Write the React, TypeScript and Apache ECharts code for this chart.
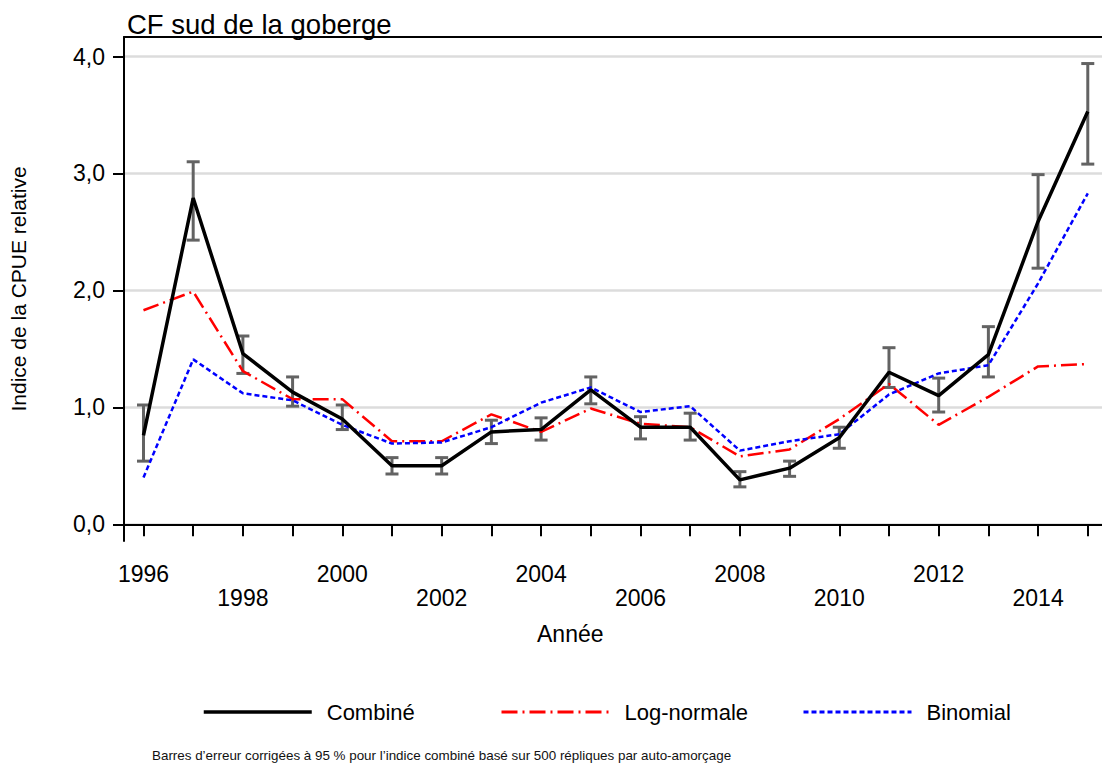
import React, { useEffect, useRef } from "react";
import * as echarts from "echarts";

const years = [1996, 1997, 1998, 1999, 2000, 2001, 2002, 2003, 2004, 2005, 2006, 2007, 2008, 2009, 2010, 2011, 2012, 2013, 2014, 2015];
const combine = [0.76, 2.79, 1.46, 1.13, 0.90, 0.50, 0.50, 0.79, 0.81, 1.15, 0.83, 0.83, 0.38, 0.48, 0.74, 1.30, 1.10, 1.45, 2.59, 3.53];
const combineLow = [0.54, 2.43, 1.29, 1.01, 0.81, 0.43, 0.43, 0.69, 0.72, 1.03, 0.73, 0.72, 0.32, 0.41, 0.65, 1.17, 0.96, 1.26, 2.19, 3.08];
const combineHigh = [1.02, 3.10, 1.61, 1.26, 1.02, 0.57, 0.57, 0.89, 0.91, 1.26, 0.92, 0.95, 0.45, 0.54, 0.83, 1.51, 1.25, 1.69, 2.99, 3.94];
const logNormal = [1.83, 1.99, 1.31, 1.07, 1.07, 0.71, 0.71, 0.94, 0.79, 0.99, 0.86, 0.83, 0.58, 0.64, 0.90, 1.20, 0.85, 1.09, 1.35, 1.37];
const binomial = [0.40, 1.41, 1.12, 1.06, 0.85, 0.69, 0.70, 0.83, 1.04, 1.17, 0.96, 1.01, 0.63, 0.71, 0.77, 1.11, 1.29, 1.36, 2.06, 2.83];
const yTicks = [0, 1, 2, 3, 4];
const xLabelYears = [1996, 1998, 2000, 2002, 2004, 2006, 2008, 2010, 2012, 2014];

const FONT = "'Liberation Sans', Arial, sans-serif";
const X_MIN = 1995.608;
const X_MAX = 2015.286;

export default function App() {
  const ref = useRef<HTMLDivElement>(null);
  useEffect(() => {
    if (!ref.current) return;
    const chart = echarts.init(ref.current, null, { renderer: "svg" });
    const option: any = {
      animation: false,
      textStyle: { fontFamily: FONT, color: "#000" },
      title: {
        text: "CF sud de la goberge",
        left: 122,
        top: 5,
        textStyle: { fontSize: 27.5, fontWeight: "normal", color: "#000", fontFamily: FONT },
      },
      grid: {
        left: 124,
        right: 0,
        top: 37,
        bottom: 222,
        show: false,
      },
      legend: [
        { name: "Combiné", left: 202, w: 3.5 },
        { name: "Log-normale", left: 500, w: 3 },
        { name: "Binomial", left: 802, w: 3 },
      ].map((l) => ({
        data: [l.name],
        left: l.left,
        top: 701,
        padding: 0,
        itemWidth: 108,
        itemHeight: 14,
        itemStyle: { opacity: 0 },
        lineStyle: { width: l.w },
        textStyle: { fontSize: 22, color: "#000", fontFamily: FONT, padding: [0, 0, 0, 10] },
        selectedMode: false,
      })),
      xAxis: [
        {
          type: "value",
          min: X_MIN,
          max: X_MAX,
          position: "bottom",
          axisLine: { show: true, lineStyle: { color: "#000", width: 2 } },
          axisTick: { show: true, customValues: years, length: 12, lineStyle: { color: "#000", width: 2 } },
          axisLabel: {
            customValues: xLabelYears,
            margin: 21,
            fontSize: 23,
            lineHeight: 24,
            color: "#000",
            fontFamily: FONT,
            formatter: (v: number) => ((Math.round(v) - 1996) % 4 === 0 ? `${Math.round(v)}\n ` : ` \n${Math.round(v)}`),
          },
          splitLine: { show: false },
        },
        {
          type: "value",
          min: X_MIN,
          max: X_MAX,
          position: "top",
          axisLine: { show: true, onZero: false, lineStyle: { color: "#000", width: 2 } },
          axisTick: { show: false },
          axisLabel: { show: false },
          splitLine: { show: false },
        },
      ],
      yAxis: {
        type: "value",
        min: -0.143,
        max: 4.167,
        name: "Indice de la CPUE relative",
        nameLocation: "middle",
        nameGap: 95,
        nameTextStyle: { fontSize: 21, color: "#000", fontFamily: FONT },
        axisLine: { show: true, onZero: false, lineStyle: { color: "#000", width: 2 } },
        axisTick: { show: true, customValues: yTicks, length: 11, lineStyle: { color: "#000", width: 2 } },
        axisLabel: {
          customValues: yTicks,
          margin: 19,
          fontSize: 23,
          color: "#000",
          fontFamily: FONT,
          formatter: (v: number) => v.toFixed(1).replace(".", ","),
        },
        splitLine: { show: true, lineStyle: { color: "#dcdcdc", width: 2.5 } },
      },
      graphic: [
        {
          type: "text",
          left: 537,
          top: 622,
          style: { text: "Année", fontSize: 23, fill: "#000", fontFamily: FONT },
        },
        {
          type: "text",
          left: 152,
          top: 749,
          style: {
            text: "Barres d’erreur corrigées à 95 % pour l’indice combiné basé sur 500 répliques par auto-amorçage",
            fontSize: 13.4,
            fill: "#111",
            fontFamily: FONT,
          },
        },
      ],
      series: [
        {
          type: "custom",
          name: "Erreur",
          z: 2,
          data: years.map((y, i) => [y, combineLow[i], combineHigh[i]]),
          encode: { x: 0, y: [1, 2] },
          renderItem: (params: any, api: any) => {
            const x = api.value(0);
            const pLo = api.coord([x, api.value(1)]);
            const pHi = api.coord([x, api.value(2)]);
            const hw = 6.5;
            const style = { stroke: "#636363", lineWidth: 3 };
            return {
              type: "group",
              children: [
                { type: "line", shape: { x1: pLo[0], y1: pLo[1], x2: pHi[0], y2: pHi[1] }, style },
                { type: "line", shape: { x1: pHi[0] - hw, y1: pHi[1], x2: pHi[0] + hw, y2: pHi[1] }, style },
                { type: "line", shape: { x1: pLo[0] - hw, y1: pLo[1], x2: pLo[0] + hw, y2: pLo[1] }, style },
              ],
            };
          },
        },
        {
          type: "line",
          name: "Log-normale",
          z: 3,
          symbol: "none",
          data: years.map((y, i) => [y, logNormal[i]]),
          lineStyle: { color: "#ff0000", width: 2.5, type: [16, 5, 2, 5] },
          itemStyle: { color: "#ff0000" },
        },
        {
          type: "line",
          name: "Binomial",
          z: 4,
          symbol: "none",
          data: years.map((y, i) => [y, binomial[i]]),
          lineStyle: { color: "#0000ff", width: 2.5, type: [5, 3] },
          itemStyle: { color: "#0000ff" },
        },
        {
          type: "line",
          name: "Combiné",
          z: 5,
          symbol: "none",
          data: years.map((y, i) => [y, combine[i]]),
          lineStyle: { color: "#000", width: 3.5 },
          itemStyle: { color: "#000" },
        },
      ],
    };
    chart.setOption(option);
    return () => chart.dispose();
  }, []);
  return <div ref={ref} style={{ position: "absolute", left: 0, top: 0, width: 1102, height: 763 }} />;
}
